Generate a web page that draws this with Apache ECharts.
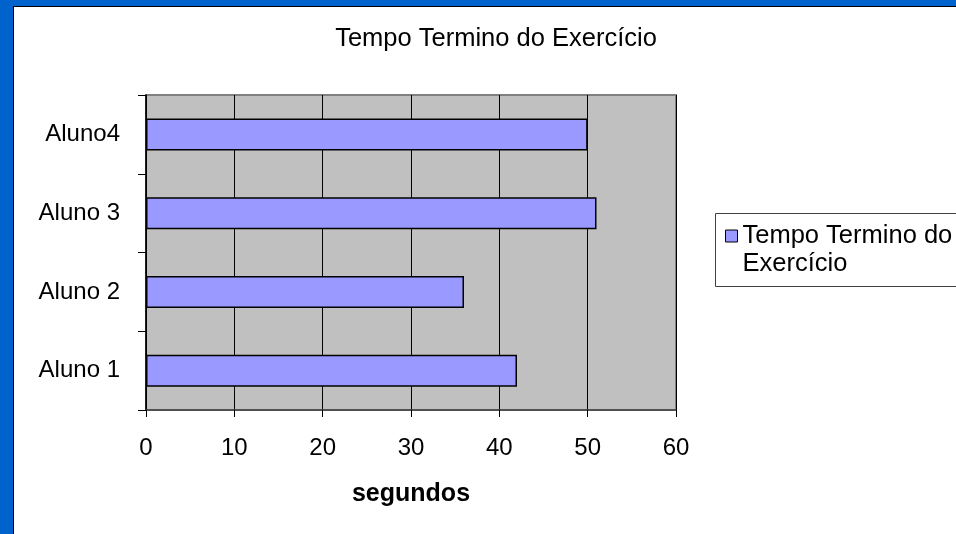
<!DOCTYPE html>
<html>
<head>
<meta charset="utf-8">
<script src="https://cdn.jsdelivr.net/npm/echarts@6/dist/echarts.min.js"></script>
<style>
  html, body { margin: 0; padding: 0; background: #fff; }
  #chart { width: 956px; height: 534px; }
</style>
</head>
<body>
<div id="chart"></div>
<script>
const categories = ['Aluno 1', 'Aluno 2', 'Aluno 3', 'Aluno4'];
const seriesName = 'Tempo Termino do Exercício';
const tempos = [42, 36, 51, 50];

const chart = echarts.init(document.getElementById('chart'));

const fontFamily = '"Liberation Sans", Arial, sans-serif';

chart.setOption({
  backgroundColor: '#fff',
  animation: false,
  textStyle: { fontFamily },
  graphic: [
    // blue frame around the slide area
    { type: 'rect', shape: { x: 0, y: 0, width: 13, height: 534 }, style: { fill: '#0062CC' }, z: 100 },
    { type: 'rect', shape: { x: 0, y: 0, width: 956, height: 6 }, style: { fill: '#0062CC' }, z: 100 },
    { type: 'rect', shape: { x: 13, y: 6, width: 1, height: 528 }, style: { fill: '#000' }, z: 100 },
    { type: 'rect', shape: { x: 13, y: 6, width: 943, height: 1 }, style: { fill: '#000' }, z: 100 },
    // legend box
    {
      type: 'rect',
      shape: { x: 715.5, y: 213.5, width: 300, height: 73 },
      style: { fill: 'none', stroke: '#404040', lineWidth: 1 },
      z: 50,
    },
  ],
  title: {
    text: 'Tempo Termino do Exercício',
    left: 496,
    textAlign: 'center',
    top: 26,
    padding: 0,
    textStyle: { fontSize: 25.5, fontWeight: 'normal', color: '#000', fontFamily },
  },
  legend: {
    left: 715,
    top: 194,
    orient: 'vertical',
    padding: [0, 0, 0, 10],
    icon: 'rect',
    itemWidth: 12,
    itemHeight: 12,
    itemGap: 0,
    // empty first line keeps the first text line level with the marker
    formatter: () => ' \nTempo Termino do\nExercício',
    textStyle: { fontSize: 25.5, color: '#000', lineHeight: 28, fontFamily },
    data: [{ name: seriesName, itemStyle: { color: '#9999FF', borderColor: '#000', borderWidth: 1 } }],
  },
  grid: {
    left: 146,
    top: 95,
    width: 530,
    height: 315,
    show: true,
    backgroundColor: '#C0C0C0',
    borderColor: '#808080',
    borderWidth: 2,
  },
  xAxis: {
    type: 'value',
    min: 0,
    max: 60,
    interval: 10,
    name: 'segundos',
    nameLocation: 'middle',
    nameGap: 72,
    nameTextStyle: { fontSize: 25, fontWeight: 'bold', color: '#000', fontFamily },
    axisLine: { show: true, lineStyle: { color: '#404040', width: 1.5 } },
    axisTick: { show: true, length: 7, lineStyle: { color: '#000' } },
    axisLabel: { fontSize: 24, color: '#000', margin: 26, fontFamily },
    splitLine: { show: true, lineStyle: { color: '#000', width: 1 } },
  },
  yAxis: {
    type: 'category',
    data: categories,
    axisLine: { show: true, lineStyle: { color: '#000', width: 1.5 } },
    axisTick: { show: true, length: 8, lineStyle: { color: '#000' } },
    axisLabel: { fontSize: 24, color: '#000', margin: 26, fontFamily },
    splitLine: { show: false },
  },
  series: [
    {
      name: seriesName,
      type: 'bar',
      data: tempos,
      barWidth: 32,
      itemStyle: { color: '#9999FF', borderColor: '#000', borderWidth: 1.5 },
    },
  ],
});
</script>
</body>
</html>
